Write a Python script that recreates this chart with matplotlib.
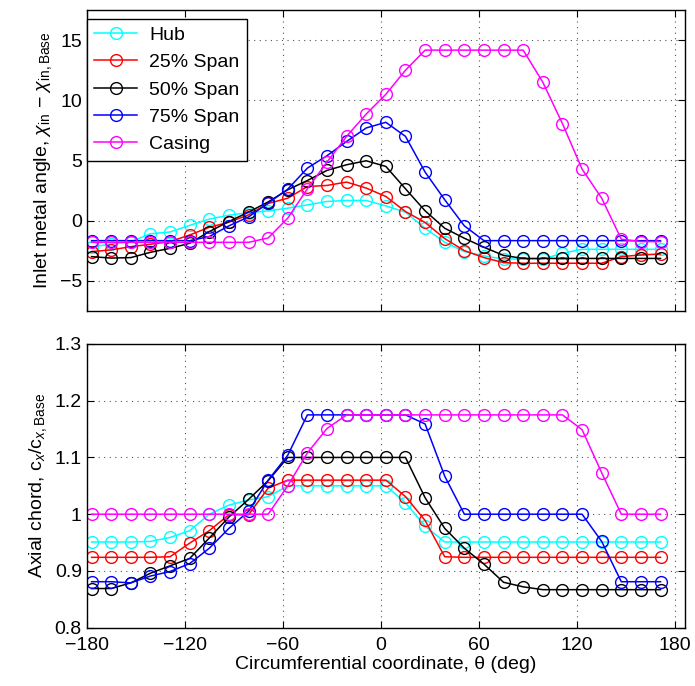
import numpy as np
import matplotlib
matplotlib.use("Agg")
import matplotlib.pyplot as plt
from matplotlib.ticker import FormatStrFormatter

plt.rcParams['font.family'] = ['Liberation Sans', 'DejaVu Sans']
plt.rcParams['mathtext.fontset'] = 'custom'
plt.rcParams['mathtext.rm'] = 'Liberation Sans'
plt.rcParams['mathtext.it'] = 'Liberation Sans:italic'
plt.rcParams['axes.unicode_minus'] = True

# circumferential positions (deg), 30 blades at 12 deg spacing
theta = np.arange(30) * 12 - 177

labels = ['Hub', '25% Span', '50% Span', '75% Span', 'Casing']
colors = ['#00ffff', '#ff0000', '#000000', '#0000ff', '#ff00ff']

# inlet metal angle change (deg)
chi_hub = [-2.2, -1.95, -1.75, -1.1, -0.95, -0.4, 0.12, 0.45, 0.65, 0.8,
           1.03, 1.3, 1.59, 1.67, 1.67, 1.22, 0.7, -0.64, -1.8, -2.58,
           -2.94, -3.2, -3.2, -3.2, -2.72, -2.39, -2.39, -2.39, -2.39, -2.39]
chi_25 = [-2.58, -2.44, -2.17, -1.97, -1.75, -1.2, -0.56, -0.14, 0.47, 1.42,
          1.86, 2.83, 2.92, 3.2, 2.7, 2.0, 0.75, -0.16, -1.5, -2.5,
          -3.08, -3.5, -3.55, -3.55, -3.55, -3.55, -3.55, -3.0, -2.86, -2.78]
chi_50 = [-3.0, -3.12, -3.08, -2.64, -2.31, -1.89, -0.92, -0.08, 0.7, 1.55,
          2.56, 3.33, 4.17, 4.64, 4.97, 4.5, 2.64, 0.81, -0.64, -1.47,
          -2.22, -2.9, -3.15, -3.15, -3.15, -3.15, -3.15, -3.15, -3.15, -3.15]
chi_75 = [-1.67, -1.67, -1.67, -1.67, -1.67, -1.67, -1.33, -0.44, 0.3, 1.45,
          2.61, 4.36, 5.39, 6.58, 7.7, 8.17, 7.0, 4.03, 1.73, -0.44,
          -1.67, -1.67, -1.67, -1.67, -1.67, -1.67, -1.67, -1.67, -1.67, -1.67]
chi_cas = [-1.81, -1.81, -1.81, -1.81, -1.81, -1.81, -1.81, -1.81, -1.81, -1.45,
           0.2, 2.64, 4.86, 7.0, 8.86, 10.5, 12.5, 14.17, 14.17, 14.17,
           14.17, 14.17, 14.17, 11.5, 8.06, 4.28, 1.86, -1.55, -1.75, -1.75]

# axial chord ratio
cx_hub = [0.951, 0.951, 0.951, 0.952, 0.959, 0.971, 1.0, 1.016, 1.025, 1.031,
          1.05, 1.05, 1.05, 1.05, 1.05, 1.05, 1.02, 0.979, 0.951, 0.951,
          0.951, 0.951, 0.951, 0.951, 0.951, 0.951, 0.951, 0.951, 0.951, 0.951]
cx_25 = [0.924, 0.924, 0.924, 0.924, 0.925, 0.949, 0.971, 0.999, 0.999, 1.046,
         1.06, 1.06, 1.06, 1.06, 1.06, 1.06, 1.031, 0.989, 0.925, 0.924,
         0.924, 0.924, 0.924, 0.924, 0.924, 0.924, 0.924, 0.924, 0.924, 0.924]
cx_50 = [0.869, 0.869, 0.879, 0.896, 0.909, 0.922, 0.958, 0.995, 1.026, 1.059,
         1.1, 1.1, 1.1, 1.1, 1.1, 1.1, 1.1, 1.029, 0.975, 0.94,
         0.912, 0.88, 0.872, 0.867, 0.867, 0.867, 0.867, 0.867, 0.867, 0.867]
cx_75 = [0.881, 0.881, 0.879, 0.891, 0.899, 0.913, 0.94, 0.975, 1.005, 1.06,
         1.104, 1.175, 1.175, 1.175, 1.175, 1.175, 1.175, 1.159, 1.067, 1.0,
         1.0, 1.0, 1.0, 1.0, 1.0, 1.0, 0.952, 0.881, 0.881, 0.881]
cx_cas = [1.0, 1.0, 1.0, 1.0, 1.0, 1.0, 1.0, 1.0, 1.0, 1.0,
          1.05, 1.108, 1.151, 1.175, 1.175, 1.175, 1.175, 1.175, 1.175, 1.175,
          1.175, 1.175, 1.175, 1.175, 1.175, 1.149, 1.073, 1.0, 1.0, 1.0]

chi_all = [chi_hub, chi_25, chi_50, chi_75, chi_cas]
cx_all = [cx_hub, cx_25, cx_50, cx_75, cx_cas]

fs = 14
fig = plt.figure(figsize=(6.95, 6.86), dpi=100)
ax1 = fig.add_axes([0.1247, 0.547, 0.861, 0.4383])
ax2 = fig.add_axes([0.1247, 0.085, 0.861, 0.4136])

for ax in (ax1, ax2):
    ax.set_xlim(-180, 186)
    ax.set_xticks([-180, -120, -60, 0, 60, 120, 180])
    ax.grid(True, linestyle=(0, (1, 4)), color='#555555', linewidth=0.8)
    ax.tick_params(direction='in', length=5, width=0.8, top=True, right=True,
                   labelsize=fs)
    for s in ax.spines.values():
        s.set_linewidth(1.0)

for y, c, lab in zip(chi_all, colors, labels):
    ax1.plot(theta, y, '-o', color=c, mfc='none', mec=c, ms=8.5, lw=1.1,
             mew=1.0, label=lab)
for y, c in zip(cx_all, colors):
    ax2.plot(theta, y, '-o', color=c, mfc='none', mec=c, ms=8.5, lw=1.1,
             mew=1.0)

ax1.set_ylim(-7.5, 17.5)
ax1.set_yticks([-5, 0, 5, 10, 15])
ax1.tick_params(labelbottom=False)
ax1.set_ylabel(r'Inlet metal angle, $\chi_{\mathrm{in}}$ $-$ $\chi_{\mathrm{in,Base}}$',
               fontsize=fs)

ax2.set_ylim(0.8, 1.3)
ax2.set_yticks([0.8, 0.9, 1.0, 1.1, 1.2, 1.3])
ax2.yaxis.set_major_formatter(FormatStrFormatter('%g'))
ax2.tick_params(axis='x', pad=7)
ax2.set_ylabel(r'Axial chord, c$_{x}$/c$_{x,\mathrm{Base}}$', fontsize=fs)
ax2.set_xlabel('Circumferential coordinate, θ (deg)', fontsize=fs, labelpad=1)

leg = ax1.legend(loc='upper left', bbox_to_anchor=(0.0, 0.972),
                 borderaxespad=0, fontsize=fs, fancybox=False, framealpha=1,
                 edgecolor='black', handlelength=2.2, labelspacing=0.5,
                 borderpad=0.4, handletextpad=0.6)
leg.get_frame().set_linewidth(1.0)

fig.savefig('out.png', dpi=100)
